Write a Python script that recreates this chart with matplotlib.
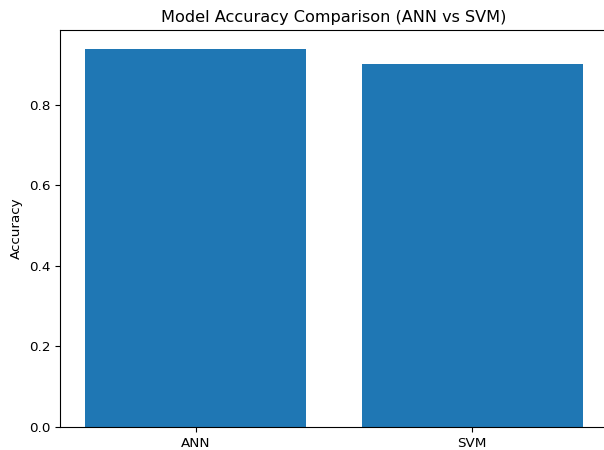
import matplotlib
matplotlib.use("Agg")
import matplotlib.pyplot as plt

# model accuracy values
models = ["ANN", "SVM"]
accuracy = [0.938, 0.901]

fig = plt.figure(figsize=(6.04, 4.5), dpi=100)
# axes runs slightly past the right edge like in the reference crop
ax = fig.add_axes([0.0993, 0.051, 0.907, 0.882])
ax.bar(models, accuracy, color="#1f77b4")
ax.set_title("Model Accuracy Comparison (ANN vs SVM)", fontsize=11.6)
ax.set_ylabel("Accuracy", fontsize=9.7)
ax.tick_params(labelsize=9.7)
ax.set_yticks([0.0, 0.2, 0.4, 0.6, 0.8])

fig.savefig("out.png", dpi=100)
